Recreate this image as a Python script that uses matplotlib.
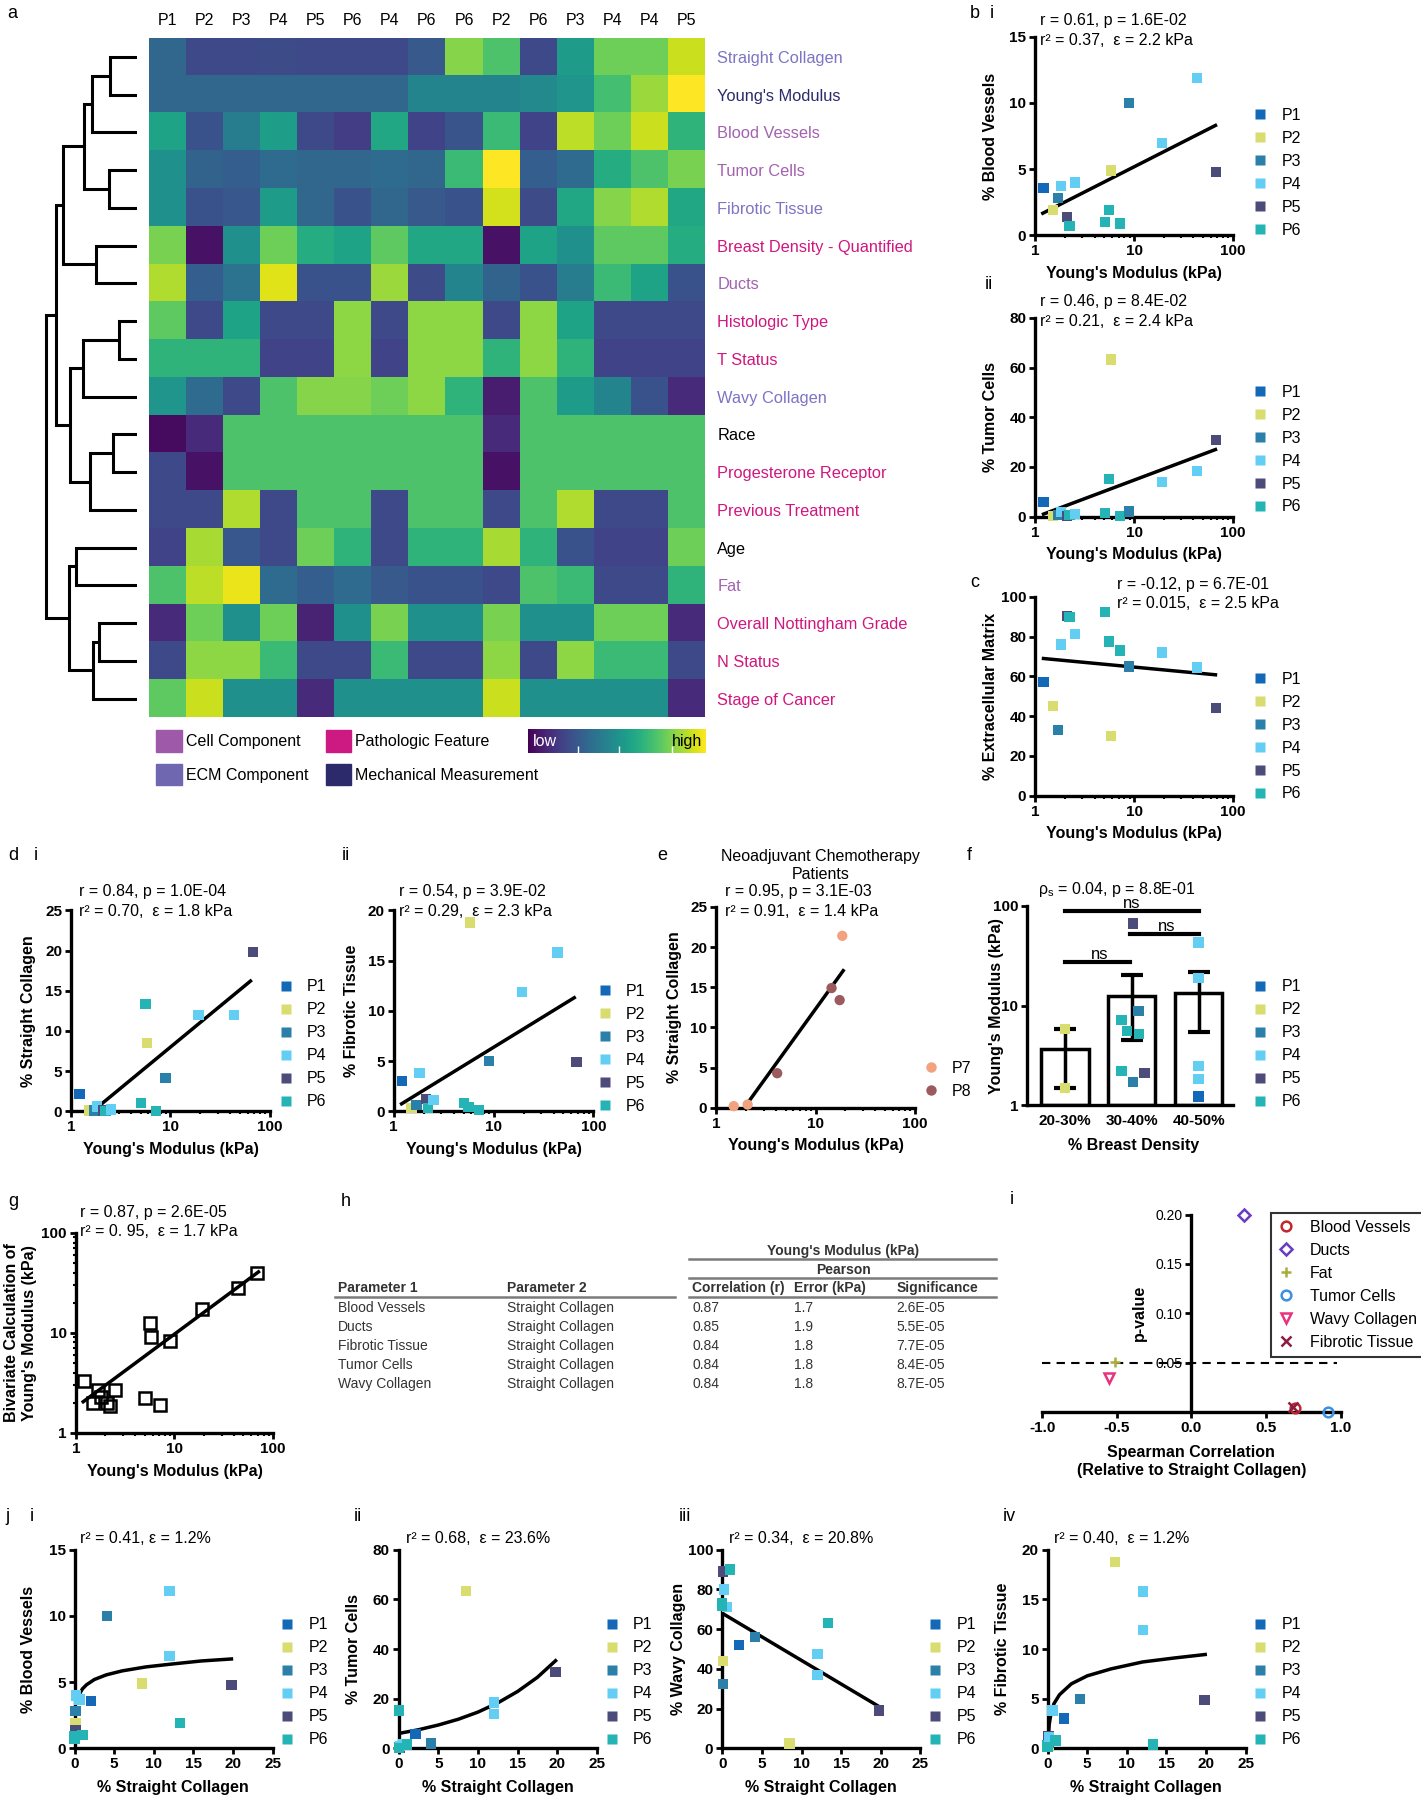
import numpy as np
import matplotlib
matplotlib.use("Agg")
import matplotlib.pyplot as plt
from matplotlib import ticker
from matplotlib.lines import Line2D
from matplotlib.patches import Patch
from matplotlib.cm import ScalarMappable
from matplotlib.colors import Normalize

plt.rcParams['font.family'] = ['Liberation Sans', 'DejaVu Sans']

# ===== data: heatmap (a) =====
col_labels = ['P1', 'P2', 'P3', 'P4', 'P5', 'P6', 'P4', 'P6', 'P6', 'P2', 'P6', 'P3', 'P4', 'P4', 'P5']
row_labels = ['Straight Collagen', "Young's Modulus", 'Blood Vessels', 'Tumor Cells', 'Fibrotic Tissue',
              'Breast Density - Quantified', 'Ducts', 'Histologic Type', 'T Status', 'Wavy Collagen',
              'Race', 'Progesterone Receptor', 'Previous Treatment', 'Age', 'Fat',
              'Overall Nottingham Grade', 'N Status', 'Stage of Cancer']
row_groups = ['ecm', 'mech', 'cell', 'cell', 'ecm', 'path', 'cell', 'path', 'path', 'ecm',
              'none', 'path', 'path', 'none', 'cell', 'path', 'path', 'path']
heat = np.array([
    [0.33, 0.22, 0.22, 0.23, 0.22, 0.22, 0.22, 0.28, 0.82, 0.72, 0.22, 0.55, 0.78, 0.78, 0.92],
    [0.33, 0.33, 0.33, 0.33, 0.33, 0.33, 0.33, 0.45, 0.45, 0.45, 0.47, 0.52, 0.70, 0.85, 1.00],
    [0.58, 0.25, 0.42, 0.56, 0.22, 0.18, 0.60, 0.20, 0.26, 0.68, 0.20, 0.90, 0.78, 0.92, 0.65],
    [0.50, 0.32, 0.30, 0.35, 0.33, 0.33, 0.35, 0.33, 0.68, 1.00, 0.30, 0.35, 0.62, 0.72, 0.80],
    [0.50, 0.25, 0.27, 0.55, 0.33, 0.25, 0.33, 0.28, 0.25, 0.93, 0.23, 0.60, 0.82, 0.88, 0.60],
    [0.80, 0.05, 0.50, 0.78, 0.62, 0.58, 0.75, 0.60, 0.60, 0.05, 0.58, 0.50, 0.75, 0.75, 0.62],
    [0.88, 0.30, 0.38, 0.95, 0.25, 0.25, 0.85, 0.23, 0.45, 0.32, 0.25, 0.42, 0.68, 0.58, 0.25],
    [0.75, 0.22, 0.58, 0.22, 0.22, 0.83, 0.22, 0.83, 0.83, 0.22, 0.83, 0.58, 0.22, 0.22, 0.22],
    [0.65, 0.65, 0.65, 0.20, 0.20, 0.83, 0.20, 0.83, 0.83, 0.65, 0.83, 0.65, 0.20, 0.20, 0.20],
    [0.52, 0.35, 0.22, 0.72, 0.82, 0.82, 0.78, 0.83, 0.65, 0.08, 0.72, 0.55, 0.45, 0.25, 0.12],
    [0.03, 0.12, 0.72, 0.72, 0.72, 0.72, 0.72, 0.72, 0.72, 0.12, 0.72, 0.72, 0.72, 0.72, 0.72],
    [0.22, 0.05, 0.72, 0.72, 0.72, 0.72, 0.72, 0.72, 0.72, 0.05, 0.72, 0.72, 0.72, 0.72, 0.72],
    [0.22, 0.22, 0.88, 0.22, 0.72, 0.72, 0.22, 0.72, 0.72, 0.22, 0.72, 0.88, 0.22, 0.22, 0.72],
    [0.20, 0.87, 0.27, 0.22, 0.78, 0.65, 0.22, 0.65, 0.65, 0.87, 0.65, 0.25, 0.20, 0.20, 0.78],
    [0.72, 0.90, 0.97, 0.35, 0.30, 0.35, 0.28, 0.25, 0.25, 0.22, 0.72, 0.68, 0.22, 0.22, 0.65],
    [0.12, 0.78, 0.50, 0.78, 0.10, 0.50, 0.80, 0.50, 0.50, 0.80, 0.50, 0.50, 0.78, 0.78, 0.12],
    [0.22, 0.83, 0.83, 0.68, 0.22, 0.22, 0.68, 0.22, 0.22, 0.83, 0.22, 0.83, 0.68, 0.68, 0.22],
    [0.75, 0.92, 0.50, 0.50, 0.12, 0.50, 0.50, 0.50, 0.50, 0.92, 0.50, 0.50, 0.50, 0.50, 0.12],
])
# dendrogram: (child a, child b, merge height); new clusters get ids 18, 19, ...
merges = [(0, 1, 23.6), (18, 2, 39.4), (3, 4, 24.8), (19, 20, 46.4), (5, 6, 35.4),
          (21, 22, 64.9), (7, 8, 15.7), (24, 9, 47.4), (10, 11, 20.9), (26, 12, 41.4),
          (25, 27, 58.4), (23, 28, 70.9), (13, 14, 53.4), (15, 16, 33.4), (31, 17, 38.4),
          (30, 32, 59.4), (29, 33, 79.0)]

# ===== data: samples (same order as heatmap columns) =====
patients = col_labels
modulus = [1.21, 1.51, 1.69, 1.81, 2.09, 2.22, 2.51, 5.08, 5.61, 5.83, 7.19, 8.94, 19.2, 43.6, 67.8]
blood_vessels = [3.6, 1.9, 2.8, 3.7, 1.4, 0.7, 4.0, 1.0, 1.9, 4.9, 0.9, 10.0, 7.0, 11.9, 4.8]
tumor_cells = [5.8, 0.2, 0.5, 1.8, 0.2, 0.5, 1.0, 1.5, 15.2, 63.3, 0.2, 2.0, 13.8, 18.5, 30.8]
ecm = [57, 45, 33, 76, 90.5, 90, 81.5, 92.5, 77.5, 30, 73, 65, 72, 64.5, 44]
straight_col = [2.1, 0.1, 0.1, 0.6, 0.1, 0.0, 0.2, 1.0, 13.3, 8.5, 0.0, 4.1, 12.0, 12.0, 19.8]
straight_col_tc = [2.1, 0.1, 0.1, 0.6, 0.1, 0.0, 0.2, 1.0, 0.0, 8.5, 0.0, 4.1, 12.0, 12.0, 19.8]
fibrotic = [3.0, 0.3, 0.6, 3.8, 1.2, 0.3, 1.1, 0.8, 0.4, 18.8, 0.1, 5.0, 11.9, 15.8, 4.9]
wavy_col = [52, 44, 32.5, 71, 89, 72, 80, 90, 63, 2.5, 73, 56, 47.5, 37, 19]
bivariate = [3.3, 2.0, 2.7, 2.3, 2.0, 1.85, 2.7, 2.2, 12.6, 9.1, 1.9, 8.3, 17.5, 28.4, 40.0]

# fitted lines (end points)
fit_bv = ([1.19, 66.8], [1.67, 8.3])
fit_tc = ([1.21, 66.8], [1.0, 27.0])
fit_ecm = ([1.21, 66.8], [69.0, 60.8])
fit_sc = ([1.93, 64.0], [0.7, 16.2])
fit_ft = ([1.2, 64.3], [0.74, 11.3])
fit_neo = ([2.0, 19.0], [0.33, 17.06])
fit_biv = ([1.19, 71.0], [2.04, 40.7])

# e: neoadjuvant patients
neo_patients = ['P7', 'P7', 'P8', 'P8', 'P8', 'P7']
neo_modulus = [1.5, 2.07, 4.11, 14.5, 17.5, 18.6]
neo_sc = [0.2, 0.4, 4.3, 14.9, 13.4, 21.4]

# f: breast density groups
density_labels = ['20-30%', '30-40%', '40-50%']
density_mean = [3.66, 12.6, 13.5]
density_lo = [1.49, 4.5, 5.4]
density_hi = [5.8, 20.3, 21.9]
dens_group = [0, 0, 1, 1, 1, 1, 1, 1, 1, 1, 2, 2, 2, 2, 2]
dens_jitter = [0, 0, 0.02, 0.1, -0.153, -0.07, 0.11, -0.153, 0.02, 0.19, 0, 0, 0, 0, 0]
dens_modulus = [5.8, 1.49, 66.6, 8.9, 7.2, 5.6, 5.2, 2.2, 1.71, 2.1, 42.7, 18.8, 2.5, 1.83, 1.23]
dens_patients = ['P2', 'P2', 'P5', 'P3', 'P6', 'P6', 'P6', 'P6', 'P3', 'P5', 'P4', 'P4', 'P4', 'P4', 'P1']
ns_pairs = [(0, 2), (0.976, 2), (0, 0.976)]
ns_level = [88.3, 51.6, 27.4]
ns_text_pos = [(1.0, 105), (1.53, 61.4), (0.52, 32.6)]

# h: table
tab_p1 = ['Blood Vessels', 'Ducts', 'Fibrotic Tissue', 'Tumor Cells', 'Wavy Collagen']
tab_p2 = ['Straight Collagen'] * 5
tab_r = ['0.87', '0.85', '0.84', '0.84', '0.84']
tab_err = ['1.7', '1.9', '1.8', '1.8', '1.8']
tab_sig = ['2.6E-05', '5.5E-05', '7.7E-05', '8.4E-05', '8.7E-05']

# i: spearman vs straight collagen
sp_names = ['Blood Vessels', 'Ducts', 'Fat', 'Tumor Cells', 'Wavy Collagen', 'Fibrotic Tissue']
sp_rho = [0.694, 0.352, -0.513, 0.913, -0.551, 0.678]
sp_p = [0.004, 0.200, 0.0502, 0.0, 0.0343, 0.0047]
sp_markers = ['o', 'D', '+', 'o', 'v', 'x']
sp_colors = ['#c0282d', '#6a3cbf', '#a9ad3c', '#3d8fe0', '#e8337c', '#8e1b40']
p_threshold = 0.05
threshold_span = [-1.0, 0.975]

# j: fitted curves vs straight collagen
j1_curve_x = [0.45, 0.6, 1, 1.5, 2.5, 4, 6, 9, 12, 16, 19.8]
j1_curve_y = [3.9, 4.1, 4.5, 4.8, 5.2, 5.55, 5.85, 6.15, 6.35, 6.6, 6.75]
j2_curve_x = [0, 2.5, 5, 7.5, 10, 12.5, 15, 17.5, 19.8]
j2_curve_y = [6.0, 7.5, 9.4, 11.7, 14.6, 18.3, 22.9, 28.6, 35.3]
j3_line = ([0, 19.8], [68, 21])
j4_curve_x = [0.05, 0.1, 0.2, 0.4, 0.8, 1.5, 3, 5, 8, 12, 16, 19.9]
j4_curve_y = [0.2, 1.3, 2.4, 3.4, 4.5, 5.4, 6.5, 7.3, 8.0, 8.7, 9.1, 9.45]

# ===== colours =====
PCOL = {'P1': '#1368b8', 'P2': '#d9dc6e', 'P3': '#2b80a9', 'P4': '#62cef4', 'P5': '#4c4b7a',
        'P6': '#24b4b5', 'P7': '#f2a27e', 'P8': '#9b5b5d'}
GROUP_TXT = {'ecm': '#7d74c4', 'mech': '#2c2a6b', 'cell': '#a262ae', 'path': '#d0177f', 'none': 'black'}
P6 = ['P1', 'P2', 'P3', 'P4', 'P5', 'P6']

# ===== figure & helpers (layout in 1238 x 1568 reference pixels) =====
W, H = 1238.0, 1568.0
fig = plt.figure(figsize=(14.21, 18.0), dpi=100)


def box(x0, y0, x1, y1):
    return [x0 / W, 1 - y1 / H, (x1 - x0) / W, (y1 - y0) / H]


def F(x, y):
    return (x / W, 1 - y / H)


def txt(x, y, s, **kw):
    kw.setdefault('fontsize', 11.5)
    kw.setdefault('va', 'center')
    fig.text(*F(x, y), s, **kw)


def prism(ax, xlim, ylim, xt, yt, xtl=None, ytl=None, xlog=False, ylog=False):
    if xlog:
        ax.set_xscale('log')
    if ylog:
        ax.set_yscale('log')
    ax.set_xlim(*xlim)
    ax.set_ylim(*ylim)
    ax.set_xticks(xt, xtl if xtl is not None else [f'{t:g}' for t in xt], fontsize=11, fontweight='bold')
    ax.set_yticks(yt, ytl if ytl is not None else [f'{t:g}' for t in yt], fontsize=11, fontweight='bold')
    ax.xaxis.set_minor_locator(ticker.LogLocator(10, subs=np.arange(2, 10)) if xlog else ticker.NullLocator())
    ax.yaxis.set_minor_locator(ticker.LogLocator(10, subs=np.arange(2, 10)) if ylog else ticker.NullLocator())
    ax.xaxis.set_minor_formatter(ticker.NullFormatter())
    ax.yaxis.set_minor_formatter(ticker.NullFormatter())
    for s in ('top', 'right'):
        ax.spines[s].set_visible(False)
    for s in ('left', 'bottom'):
        ax.spines[s].set_linewidth(2.4)
    ax.tick_params(which='major', direction='out', length=4, width=2, pad=2.5)
    ax.tick_params(which='minor', direction='out', length=2.5, width=1.5)
    ax.patch.set_alpha(0)


def axlabels(ax, xl, yl, xpos, ypos):
    ax.set_xlabel(xl, fontsize=11.5, fontweight='bold', va='center')
    ax.xaxis.set_label_coords(*F(*xpos), transform=fig.transFigure)
    ax.set_ylabel(yl, fontsize=11.5, fontweight='bold', va='center')
    ax.yaxis.set_label_coords(*F(*ypos), transform=fig.transFigure)


def plegend(ax, labels, x, y, marker='s'):
    hs = [Line2D([], [], ls='none', marker=marker, color=PCOL[p], mec='none', markersize=7.5) for p in labels]
    ax.legend(hs, labels, loc='upper left', bbox_to_anchor=F(x, y), bbox_transform=fig.transFigure,
              frameon=False, fontsize=11.5, handlelength=0.9, handletextpad=0.9, labelspacing=0.5,
              borderpad=0, borderaxespad=0)


def pscatter(ax, x, y, pats, marker='s', s=55):
    ax.scatter(x, y, c=[PCOL[p] for p in pats], marker=marker, s=s, edgecolors='none',
               clip_on=False, zorder=3)


# ===== a: heatmap + dendrogram =====
axh = fig.add_axes(box(130, 33, 614, 625))
axh.imshow(heat, cmap='viridis', vmin=0, vmax=1, aspect='auto', interpolation='nearest')
axh.xaxis.tick_top()
axh.set_xticks(range(len(col_labels)), col_labels, fontsize=11.5)
axh.yaxis.tick_right()
axh.set_yticks(range(len(row_labels)), row_labels, fontsize=11.8)
axh.tick_params(length=0)
axh.tick_params(axis='x', pad=7)
axh.tick_params(axis='y', pad=9)
for lab, g in zip(axh.get_yticklabels(), row_groups):
    lab.set_color(GROUP_TXT[g])
for s in axh.spines.values():
    s.set_visible(False)

axd = fig.add_axes(box(28, 33, 119.4, 625))
pos = {i: (float(i), 0.0) for i in range(len(row_labels))}
for k, (a, b, h) in enumerate(merges):
    ya, ha = pos[a]
    yb, hb = pos[b]
    axd.plot([ha, h, h, hb], [ya, ya, yb, yb], color='black', lw=2.2, solid_capstyle='butt',
             solid_joinstyle='miter')
    pos[len(row_labels) + k] = ((ya + yb) / 2, h)
axd.set_xlim(91.4, 0)
axd.set_ylim(len(row_labels) - 0.5, -0.5)
axd.axis('off')

cat_handles = [Patch(color='#9e5aa8'), Patch(color='#6f68b0'), Patch(color='#cc1a82'), Patch(color='#2c2a6b')]
cat_labels = ['Cell Component', 'ECM Component', 'Pathologic Feature', 'Mechanical Measurement']
fig.legend(cat_handles, cat_labels, loc='upper left', bbox_to_anchor=F(136, 636), ncol=2, frameon=False,
           fontsize=11.5, handlelength=1.6, handleheight=1.7, handletextpad=0.25, columnspacing=1.1,
           labelspacing=0.75, borderpad=0, borderaxespad=0)

cax = fig.add_axes(box(460, 635, 615, 656))
cb = fig.colorbar(ScalarMappable(norm=Normalize(0, 1), cmap='viridis'), cax=cax, orientation='horizontal')
cb.outline.set_visible(False)
cb.set_ticks([0.28, 0.51, 0.81])
cax.tick_params(direction='in', colors='white', length=5, width=1, labelbottom=False)
cax.text(0.03, 0.5, 'low', color='white', fontsize=11.5, va='center', transform=cax.transAxes)
cax.text(0.98, 0.5, 'high', color='black', fontsize=11.5, va='center', ha='right', transform=cax.transAxes)

# ===== b i =====
ax = fig.add_axes(box(902, 32, 1074, 205))
prism(ax, (1, 100), (0, 15), [1, 10, 100], [0, 5, 10, 15], xlog=True)
pscatter(ax, modulus, blood_vessels, patients)
ax.plot(*fit_bv, color='black', lw=2.5)
axlabels(ax, "Young's Modulus (kPa)", '% Blood Vessels', (988, 238), (863, 118.5))
plegend(ax, P6, 1091.5, 94)
txt(906, 18, 'r = 0.61, p = 1.6E-02')
txt(906, 35, 'r² = 0.37,  ε = 2.2 kPa')

# ===== b ii =====
ax = fig.add_axes(box(902, 277, 1074, 450))
prism(ax, (1, 100), (0, 80), [1, 10, 100], [0, 20, 40, 60, 80], xlog=True)
pscatter(ax, modulus, tumor_cells, patients)
ax.plot(*fit_tc, color='black', lw=2.5)
axlabels(ax, "Young's Modulus (kPa)", '% Tumor Cells', (988, 483), (863, 363.5))
plegend(ax, P6, 1091.5, 335)
txt(906, 263, 'r = 0.46, p = 8.4E-02')
txt(906, 280, 'r² = 0.21,  ε = 2.4 kPa')

# ===== c =====
ax = fig.add_axes(box(902, 520, 1074, 693))
prism(ax, (1, 100), (0, 100), [1, 10, 100], [0, 20, 40, 60, 80, 100], xlog=True)
pscatter(ax, modulus, ecm, patients)
ax.plot(*fit_ecm, color='black', lw=2.5)
axlabels(ax, "Young's Modulus (kPa)", '% Extracellular Matrix', (988, 726), (863, 606.5))
plegend(ax, P6, 1091.5, 585)
txt(973, 509, 'r = -0.12, p = 6.7E-01')
txt(973, 526, 'r² = 0.015,  ε = 2.5 kPa')

# ===== d i =====
ax = fig.add_axes(box(62, 793, 235, 968))
prism(ax, (1, 100), (0, 25), [1, 10, 100], [0, 5, 10, 15, 20, 25], xlog=True)
pscatter(ax, modulus, straight_col, patients)
ax.plot(*fit_sc, color='black', lw=2.5)
axlabels(ax, "Young's Modulus (kPa)", '% Straight Collagen', (148.5, 1001), (25, 880.5))
plegend(ax, P6, 242.5, 853)
txt(69, 777, 'r = 0.84, p = 1.0E-04')
txt(69, 794, 'r² = 0.70,  ε = 1.8 kPa')

# ===== d ii =====
ax = fig.add_axes(box(343, 793, 517, 968))
prism(ax, (1, 100), (0, 20), [1, 10, 100], [0, 5, 10, 15, 20], xlog=True)
pscatter(ax, modulus, fibrotic, patients)
ax.plot(*fit_ft, color='black', lw=2.5)
axlabels(ax, "Young's Modulus (kPa)", '% Fibrotic Tissue', (430, 1001), (306, 880.5))
plegend(ax, P6, 520.5, 857)
txt(348, 777, 'r = 0.54, p = 3.9E-02')
txt(348, 794, 'r² = 0.29,  ε = 2.3 kPa')

# ===== e =====
ax = fig.add_axes(box(624, 790, 797, 965))
prism(ax, (1, 100), (0, 25), [1, 10, 100], [0, 5, 10, 15, 20, 25], xlog=True)
ax.scatter(neo_modulus, neo_sc, c=[PCOL[p] for p in neo_patients], s=55, edgecolors='none',
           clip_on=False, zorder=3)
ax.plot(*fit_neo, color='black', lw=2.5)
axlabels(ax, "Young's Modulus (kPa)", '% Straight Collagen', (710.5, 998), (588, 877.5))
plegend(ax, ['P7', 'P8'], 804.5, 924, marker='o')
txt(715, 746, 'Neoadjuvant Chemotherapy', ha='center')
txt(715, 762, 'Patients', ha='center')
txt(632, 777, 'r = 0.95, p = 3.1E-03')
txt(632, 794, 'r² = 0.91,  ε = 1.4 kPa')

# ===== f =====
ax = fig.add_axes(box(895, 789, 1074, 963))
prism(ax, (-0.56, 2.51), (1, 100), range(3), [1, 10, 100], xtl=density_labels, ylog=True)
ax.yaxis.set_minor_locator(ticker.NullLocator())
ax.tick_params(axis='x', length=0, pad=6)
xs = np.arange(len(density_labels))
means = np.array(density_mean)
ax.bar(xs, means - 1, bottom=1, width=0.71, facecolor='white', edgecolor='black', linewidth=2.5, zorder=1)
ax.errorbar(xs, means, yerr=[means - np.array(density_lo), np.array(density_hi) - means], fmt='none',
            ecolor='black', elinewidth=2.5, capsize=8, capthick=3, zorder=2)
pscatter(ax, np.array(dens_group) + np.array(dens_jitter), dens_modulus, dens_patients)
for (x0, x1), lvl, (tx, ty) in zip(ns_pairs, ns_level, ns_text_pos):
    ax.plot([x0, x1], [lvl, lvl], color='black', lw=3, clip_on=False, zorder=4)
    ax.text(tx, ty, 'ns', ha='center', va='center', fontsize=12, clip_on=False)
axlabels(ax, '% Breast Density', "Young's Modulus (kPa)", (988, 998), (868, 876))
plegend(ax, P6, 1091.5, 853)
txt(904, 775, r'ρ$_\mathregular{s}$ = 0.04, p = 8.8E-01')

# ===== g =====
ax = fig.add_axes(box(66, 1074, 238, 1248))
prism(ax, (1, 100), (1, 100), [1, 10, 100], [1, 10, 100], xlog=True, ylog=True)
ax.plot(modulus, bivariate, ls='none', marker='s', mfc='none', mec='black', mew=1.8, ms=8, clip_on=False)
ax.plot(*fit_biv, color='black', lw=2.5)
axlabels(ax, "Young's Modulus (kPa)", "Bivariate Calculation of\nYoung's Modulus (kPa)", (152, 1282),
         (18, 1161))
txt(69.5, 1056, 'r = 0.87, p = 2.6E-05')
txt(69.5, 1073, 'r² = 0. 95,  ε = 1.7 kPa')

# ===== h: table =====
TC = '#333333'
txt(734.6, 1089.6, "Young's Modulus (kPa)", ha='center', fontsize=10, fontweight='bold', color=TC)
txt(734.6, 1106, 'Pearson', ha='center', fontsize=10, fontweight='bold', color=TC)
for x, s in zip([294.5, 441.7, 603, 691.8, 780.7],
                ['Parameter 1', 'Parameter 2', 'Correlation (r)', 'Error (kPa)', 'Significance']):
    txt(x, 1122.4, s, fontsize=10, fontweight='bold', color=TC)
for x0, x1, y in [(600, 868, 1097), (600, 868, 1113.6), (291.7, 588, 1129.7), (600, 868, 1129.7)]:
    fig.add_artist(Line2D([x0 / W, x1 / W], [1 - y / H, 1 - y / H], transform=fig.transFigure,
                          color='#7a7a7a', lw=1.8))
for i, row in enumerate(zip(tab_p1, tab_p2, tab_r, tab_err, tab_sig)):
    y = 1139 + i * 16.55
    for x, s in zip([294.5, 441.7, 603, 691.8, 780.7], row):
        txt(x, y, s, fontsize=10, color=TC)

# ===== i =====
ax = fig.add_axes(box(908, 1058, 1168, 1230))
prism(ax, (-1, 1), (0, 0.2), [-1, -0.5, 0, 0.5, 1], [0.05, 0.1, 0.15, 0.2],
      xtl=['-1.0', '-0.5', '0.0', '0.5', '1.0'], ytl=['0.05', '0.10', '0.15', '0.20'])
ax.spines['left'].set_position(('data', 0))
ax.plot(threshold_span, [p_threshold, p_threshold], color='black', lw=1.5, ls=(0, (4, 3)), zorder=1)
for n, r, p, m, c in zip(sp_names, sp_rho, sp_p, sp_markers, sp_colors):
    ax.plot([r], [p], ls='none', marker=m, mfc='none', mec=c, mew=1.8, ms=7 if m != 'D' else 6,
            label=n, clip_on=False, zorder=3)
leg = ax.legend(loc='upper left', bbox_to_anchor=F(1107, 1056.5), bbox_transform=fig.transFigure,
                fontsize=11.5, frameon=True, fancybox=False, edgecolor='black', handlelength=1.0,
                handletextpad=1.0, labelspacing=0.5, borderpad=0.45, borderaxespad=0)
leg.get_frame().set_linewidth(1.5)
axlabels(ax, 'Spearman Correlation\n(Relative to Straight Collagen)', 'p-value', (1038, 1273), (993, 1144))

# ===== j =====
jspec = [
    ('i', 65, straight_col, blood_vessels, (j1_curve_x, j1_curve_y), (0, 15), [0, 5, 10, 15],
     '% Blood Vessels', 'r² = 0.41, ε = 1.2%', 25, 70, 244),
    ('ii', 347.4, straight_col_tc, tumor_cells, (j2_curve_x, j2_curve_y), (0, 80), [0, 20, 40, 60, 80],
     '% Tumor Cells', 'r² = 0.68,  ε = 23.6%', 308, 354, 526.5),
    ('iii', 629.3, straight_col, wavy_col, j3_line, (0, 100), [0, 20, 40, 60, 80, 100],
     '% Wavy Collagen', 'r² = 0.34,  ε = 20.8%', 591, 635, 808.5),
    ('iv', 912.7, straight_col, fibrotic, (j4_curve_x, j4_curve_y), (0, 20), [0, 5, 10, 15, 20],
     '% Fibrotic Tissue', 'r² = 0.40,  ε = 1.2%', 873.5, 918, 1091.5),
]
for tag, x0, xv, yv, curve, ylim, yt, yl, ann, ylx, annx, legx in jspec:
    ax = fig.add_axes(box(x0, 1350, x0 + 172.5, 1523))
    prism(ax, (0, 25), ylim, [0, 5, 10, 15, 20, 25], yt)
    pscatter(ax, xv, yv, patients)
    ax.plot(*curve, color='black', lw=2.5)
    axlabels(ax, '% Straight Collagen', yl, (x0 + 86, 1557), (ylx, 1436.5))
    plegend(ax, P6, legx, 1409)
    txt(annx, 1340, ann)

# ===== panel letters =====
for s, x, y in [('a', 6, 12), ('b', 845, 12), ('i', 862, 12), ('ii', 858, 248), ('c', 845, 507),
                ('d', 7, 745), ('i', 29, 745), ('ii', 298, 745), ('e', 573, 745), ('f', 842, 745),
                ('g', 7, 1047), ('h', 297, 1047), ('i', 880, 1045), ('j', 5, 1321), ('i', 26, 1321),
                ('ii', 308, 1321), ('iii', 591, 1321), ('iv', 874, 1321)]:
    txt(x, y, s, fontsize=13)

fig.savefig('out.png', dpi=100)
